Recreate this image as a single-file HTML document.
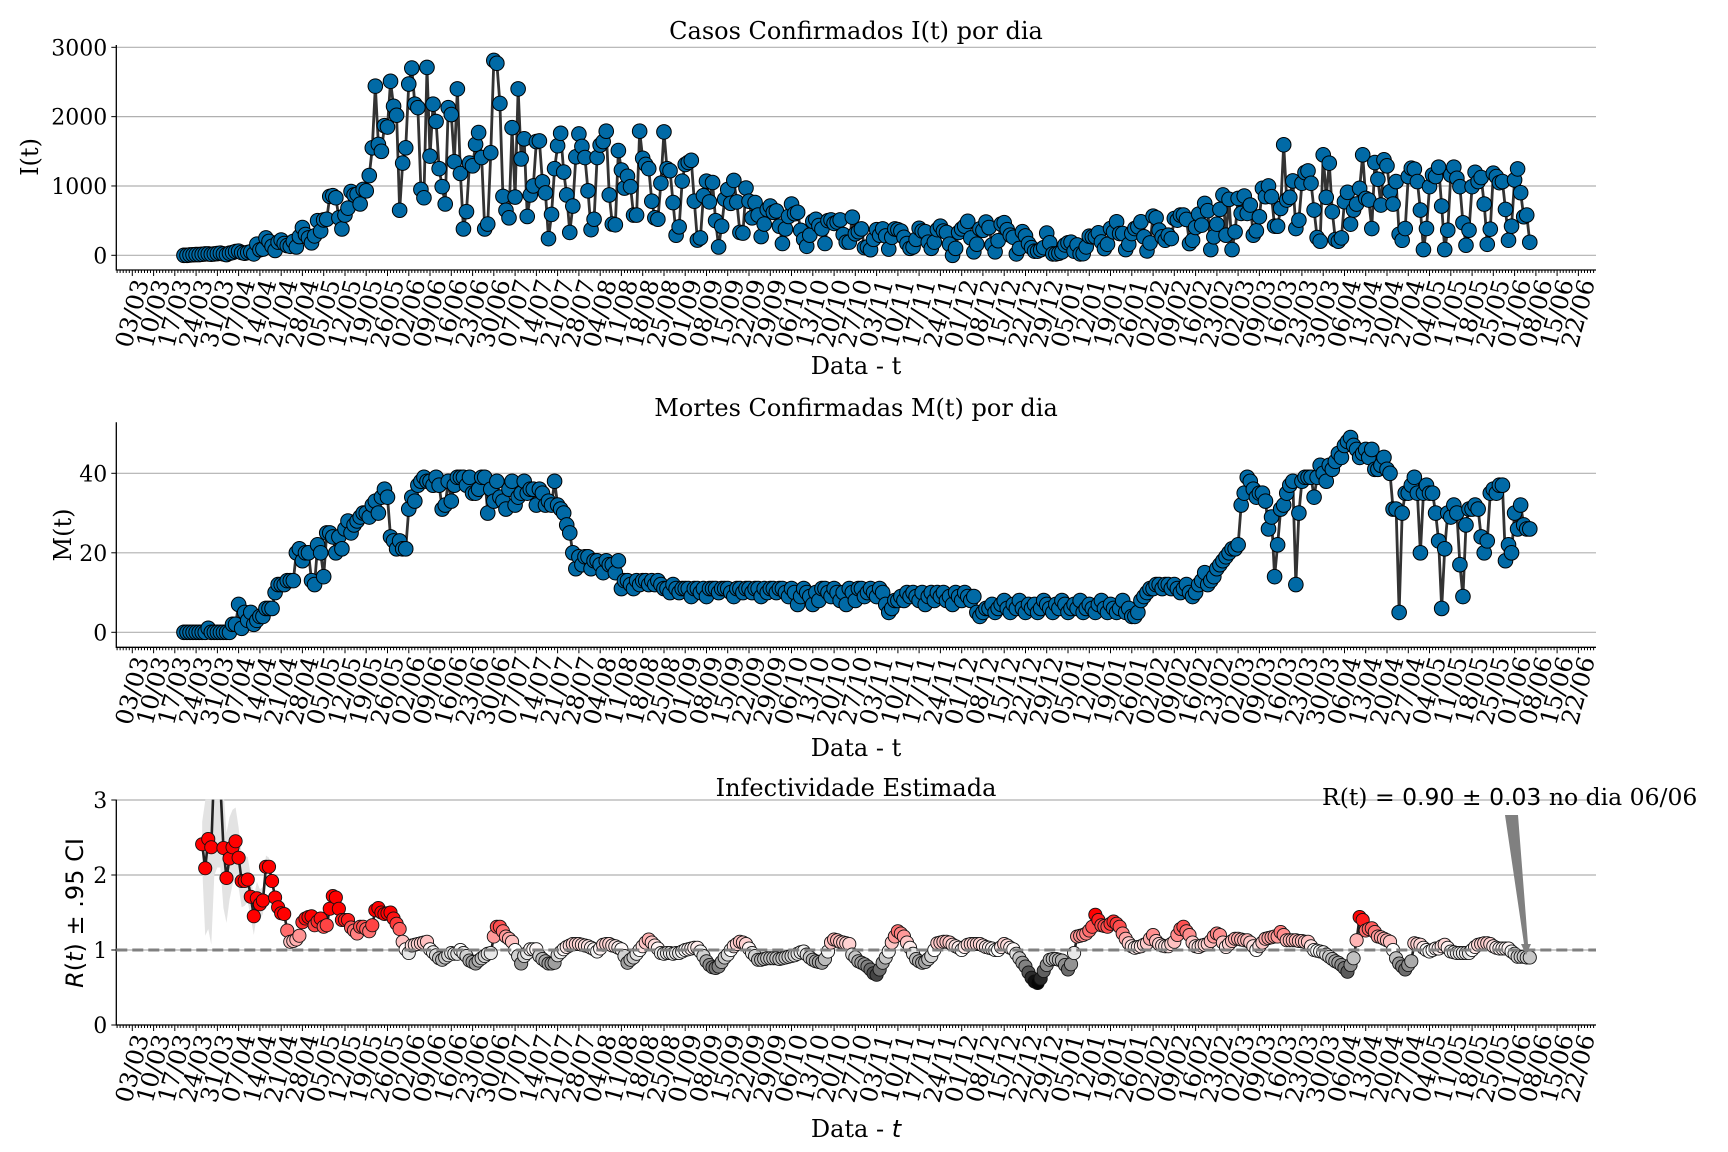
<!DOCTYPE html>
<html><head><meta charset="utf-8"><title>Casos, Mortes e R(t)</title>
<style>
html,body{margin:0;padding:0;background:#fff;}
svg{display:block;font-family:"DejaVu Serif","Liberation Serif",serif;}
</style></head>
<body>
<svg id="chart" width="1728" height="1152" viewBox="0 0 1728 1152" xmlns="http://www.w3.org/2000/svg">
<defs>
<clipPath id="clipR"><rect x="116.3" y="799.6" width="1480" height="225.4"/></clipPath>
</defs>
<text x="856" y="39" font-size="24" text-anchor="middle">Casos Confirmados I(t) por dia</text>
<text x="856" y="416" font-size="24" text-anchor="middle">Mortes Confirmadas M(t) por dia</text>
<text x="856" y="796" font-size="24" text-anchor="middle">Infectividade Estimada</text>
<text transform="translate(38,157) rotate(-90)" font-size="24" text-anchor="middle">I(t)</text>
<text transform="translate(71,535) rotate(-90)" font-size="24" text-anchor="middle">M(t)</text>
<text transform="translate(83,913) rotate(-90)" font-size="24" text-anchor="middle" font-family="DejaVu Sans, Liberation Sans, sans-serif"><tspan font-style="italic">R</tspan>(<tspan font-style="italic">t</tspan>) ± .95 CI</text>
<text x="856" y="374" font-size="24" text-anchor="middle">Data - t</text>
<text x="856" y="756" font-size="24" text-anchor="middle">Data - t</text>
<text x="856" y="1137" font-size="24" text-anchor="middle">Data - <tspan font-style="italic" font-family="DejaVu Sans, sans-serif">t</tspan></text>
<g id="layer"></g>
<polygon points="1505,815 1518,815 1528,944 1531,944 1526,955 1521,944 1524,944" fill="#808080"/>
<text x="1322" y="805" font-size="23.5">R(t) = <tspan font-family="DejaVu Sans, sans-serif">0.90 ± 0.03</tspan> no dia 06/06</text>
</svg>
<script>
const dateLabels = ["03/03","10/03","17/03","24/03","31/03","07/04","14/04","21/04","28/04","05/05","12/05","19/05","26/05","02/06","09/06","16/06","23/06","30/06","07/07","14/07","21/07","28/07","04/08","11/08","18/08","25/08","01/09","08/09","15/09","22/09","29/09","06/10","13/10","20/10","27/10","03/11","10/11","17/11","24/11","01/12","08/12","15/12","22/12","29/12","05/01","12/01","19/01","26/01","02/02","09/02","16/02","23/02","02/03","09/03","16/03","23/03","30/03","06/04","13/04","20/04","27/04","04/05","11/05","18/05","25/05","01/06","08/06","15/06","22/06"];
const firstDay = 17;
const casesI = [
0,0,5,8,10,10,15,20,20,15,20,25,30,20,10,30,40,55,60,40,30,40,50,20,
160,80,90,250,200,130,70,190,220,170,140,130,200,120,270,400,300,250,180,280,500,350,510,520,850,860,
830,540,380,580,680,920,870,880,740,950,930,1150,
1550,2440,1600,1500,1870,1850,2510,2150,2020,650,1330,1550,2470,2700,2180,2130,950,830,2710,1430,
2180,1930,1250,990,740,2130,2030,1350,2400,1180,380,630,1330,1290,1600,1770,1410,380,450,1480,
2810,2770,2190,850,650,540,1840,840,2400,1390,1680,560,870,1000,1640,1650,1060,900,240,590,1250,1580,1760,
1200,870,330,710,1420,1750,1570,1410,930,370,520,1410,1590,1640,1790,870,450,440,1510,1230,
970,1140,990,580,580,1790,1400,1310,1250,780,540,520,1040,1780,1250,1220,760,290,410,1070,
1310,1340,1370,780,220,250,860,1070,770,1050,500,120,420,810,950,750,1080,770,330,320,
970,780,540,760,580,270,450,660,710,620,640,420,170,380,560,740,600,620,360,230,
130,290,490,520,430,380,170,500,510,460,480,510,300,190,190,550,310,340,380,110,
120,80,230,370,290,380,280,90,260,380,370,350,260,170,100,120,230,390,350,340,
190,100,190,370,420,350,330,160,0,100,330,380,420,490,250,50,160,380,360,480,
400,150,50,210,450,470,370,290,260,20,100,340,280,170,110,60,60,80,110,320,
180,20,20,30,50,150,180,190,60,150,20,
24,121,275,266,266,324,193,97,159,386,338,483,314,314,82,159,314,386,411,483,
266,63,179,565,541,362,266,217,290,242,531,507,580,580,517,169,217,401,594,435,
749,643,82,266,449,662,870,290,807,82,338,821,604,855,604,725,290,353,556,966,
845,1000,845,420,420,676,1594,797,836,1072,386,507,1039,1193,1217,1039,652,256,203,1449,
836,1329,628,227,203,251,773,908,449,652,739,966,1449,821,797,386,1338,1097,725,1377,
1290,918,739,1063,304,217,386,1135,1256,1242,1063,652,82,386,990,1159,1135,1271,710,82,
362,1159,1271,1111,990,469,145,362,990,1198,1063,1121,739,159,377,1184,1135,1048,1063,662,
217,420,1087,1246,903,556,580,188];
const deathsM = [
0,0,0,0,0,0,0,0,1,0,0,0,0,0,0,0,
2,2,7,1,5,3,5,2,3,4,4,6,6,6,10,12,12,12,13,13,13,20,
21,18,20,20,13,12,22,20,14,25,25,24,20,24,21,26,28,25,27,28,29,30,30,29,32,33,30,34,36,
34,24,23,21,23,21,21,31,34,33,37,38,
39,38,38,37,39,37,31,32,38,33,37,39,39,39,37,39,35,35,36,39,39,30,
36,33,38,34,33,31,36,38,32,34,35,38,35,36,36,32,36,35,32,33,32,38,
32,31,30,27,25,20,
16,19,17,19,19,16,18,18,17,15,18,17,17,15,18,11,
13,13,12,11,13,12,13,13,12,13,12,13,12,11,11,10,12,11,10,11,11,11,9,11,11,10,11,9,11,11,
11,10,11,11,11,10,9,11,11,10,11,11,10,11,11,9,11,10,11,11,10,11,11,10,9,11,10,7,9,11,
10,9,7,10,8,11,11,10,9,11,10,8,
10,7,11,10,8,11,11,9,10,11,10,9,11,10,7,5,6,
8,8,9,8,10,9,10,9,8,10,7,9,10,8,10,9,10,8,9,7,10,9,8,10,9,8,9,
5,4,5,6,
6,7,5,6,7,8,6,5,7,6,8,6,5,7,6,7,5,6,8,7,6,5,7,6,8,7,5,6,7,6,8,5,6,7,6,5,7,8,6,5,7,6,5,6,8,5,6,
4,4,5,
8,9,10,11,11,12,12,11,12,12,11,12,11,10,11,12,
10,9,10,12,13,15,12,13,14,16,17,18,19,20,21,21,22,
32,35,39,38,36,34,35,35,33,26,29,14,22,31,32,35,37,38,12,30,
38,39,39,39,34,39,42,40,38,42,41,43,45,44,47,48,49,47,46,44,
45,46,44,46,41,41,42,44,41,40,31,31,5,30,35,35,37,39,35,20,
35,37,35,35,30,23,6,21,30,29,32,30,17,9,27,31,31,32,31,24,
20,23,35,36,35,37,37,18,22,20,30,26,32,27,26,26];
const rFirstDay = 23;
const rValues = [
2.41,2.09,2.48,2.37,3.5,3.6,3.2,2.36,1.96,2.22,
2.37,2.45,2.23,1.92,1.92,1.94,1.71,1.45,1.69,1.61,
1.66,2.11,2.11,1.92,1.70,1.57,1.49,1.48,1.26,1.11,
1.12,1.14,1.19,1.37,1.42,1.44,1.45,1.33,1.38,1.42,
1.31,1.33,1.55,1.72,1.70,1.55,1.40,1.40,1.40,1.30,
1.26,1.22,1.31,1.31,1.28,1.25,1.33,1.53,1.56,1.50,
1.48,1.49,1.50,1.42,1.35,1.28,1.11,1.01,0.96,1.06,
1.07,1.08,1.09,1.10,1.11,1.01,0.97,0.93,0.89,0.87,
0.90,0.93,0.96,0.95,0.95,1.00,0.96,0.92,0.86,0.84,
0.82,0.86,0.89,0.92,0.95,0.96,1.18,1.31,1.31,1.25,
1.18,1.15,1.11,1.00,0.92,0.82,0.92,0.96,1.01,1.01,
1.01,0.92,0.88,0.85,0.82,0.82,0.83,0.93,0.97,1.01,
1.04,1.06,1.08,1.08,1.08,1.07,1.06,1.05,1.03,1.01,
0.98,1.02,1.07,1.08,1.08,1.06,1.05,1.03,1.01,0.92,0.83,
0.87,0.9,0.95,1.0,1.05,1.1,1.14,
1.1,1.06,1.02,0.96,0.95,0.96,0.96,0.95,0.96,0.96,
0.98,1.0,1.01,1.02,1.03,1.03,0.98,0.92,0.85,0.8,
0.77,0.76,0.78,0.84,0.9,0.94,1.0,1.05,1.08,1.11,
1.1,1.08,1.02,0.96,0.92,0.87,0.87,0.88,0.89,0.89,
0.89,0.89,0.88,0.89,0.9,0.91,0.92,0.93,0.95,0.97,
0.98,0.94,0.9,0.87,0.85,0.84,0.83,0.88,0.98,1.1,
1.14,1.13,1.11,1.1,1.09,1.08,0.94,0.9,0.85,0.83,
0.81,0.78,0.74,0.69,0.67,0.74,0.83,0.9,0.98,1.1,
1.18,1.25,1.22,1.18,1.1,1.03,0.95,0.88,0.85,0.83,
0.84,0.88,0.92,1.0,1.09,1.1,1.11,1.11,1.1,1.07,
1.05,1.03,1.0,1.04,1.07,1.08,1.08,1.08,1.08,1.06,
1.04,1.03,1.02,1.0,1.0,1.04,1.08,1.06,1.03,1.01,
0.95,0.89,0.83,0.78,0.7,0.63,0.58,0.56,0.62,0.72,
0.8,0.87,0.88,0.88,0.87,0.86,0.8,0.74,0.81,0.96,
1.18,1.19,1.2,1.22,1.26,1.31,1.47,1.4,1.33,1.32,
1.31,1.35,1.38,1.35,1.31,1.22,1.15,1.09,1.05,1.03,
1.04,1.05,1.07,1.09,1.15,1.2,1.12,1.08,1.06,1.05,
1.05,1.08,1.11,1.2,1.28,1.31,1.25,1.2,1.1,1.05,
1.04,1.06,1.07,1.08,1.12,1.18,1.22,1.2,1.1,1.04,
1.08,1.12,1.15,1.15,1.14,1.13,1.13,1.1,1.05,1.0,
1.05,1.1,1.15,1.16,1.17,1.18,1.18,1.24,1.2,1.13,
1.13,1.13,1.13,1.12,1.12,1.11,1.11,1.05,1.0,0.99,
0.98,0.97,0.94,0.91,0.88,0.85,0.83,0.8,0.76,0.71,
0.8,0.89,1.13,1.44,1.40,1.26,1.28,1.29,1.24,1.18,
1.17,1.15,1.13,1.11,1.0,0.89,0.82,0.78,0.74,0.8,
0.85,1.09,1.08,1.07,1.03,1.0,0.98,1.0,1.02,1.02,
1.05,1.07,1.03,0.98,0.97,0.96,0.96,0.96,0.96,0.96,
1.0,1.04,1.07,1.08,1.09,1.09,1.08,1.05,1.03,1.02,
1.02,1.02,1.02,0.98,0.95,0.91,0.91,0.91,0.9,0.9];
const rCiHalf = [0.3,0.9,1.2,1.3,1.5,1.5,1.1,0.8,0.6,0.55,0.5,0.45,0.4,0.35,0.33,0.3,0.28,0.25,0.22,0.2,0.18,0.15,0.12,0.1,0.08,0.06];
const casesTicks = [0,1000,2000,3000];
const deathsTicks = [0,20,40];
const rTicks = [0,1,2,3];

const NS = "http://www.w3.org/2000/svg";
const layer = document.getElementById('layer');
const X0 = 116.3, X1 = 1596;
function xOf(d){ return 132.3 + d * 3.038; }
function yI(v){ return 255.3 - v * 0.06933; }
function yM(v){ return 632.3 - v * 3.975; }
function yR(v){ return 1025 - v * 75; }
function mk(tag, parent){ const e = document.createElementNS(NS, tag); (parent || layer).appendChild(e); return e; }

function rColor(r){
  let R, G, B;
  if (r >= 1){ const t = Math.min((r - 1) / 0.45, 1); R = 255; G = Math.round(255 * (1 - t)); B = G; }
  else { const t = Math.min((1 - r) / 0.45, 1); R = G = B = Math.round(255 * (1 - t)); }
  return 'rgb(' + R + ',' + G + ',' + B + ')';
}

function drawAxes(name, top, bottom, ticks, yf){
  const g = mk('g');
  
  
  ticks.forEach(function(t){
    const y = yf(t);
    const gl = mk('line', g);
    gl.setAttribute('x1', X0); gl.setAttribute('x2', X1); gl.setAttribute('y1', y); gl.setAttribute('y2', y);
    gl.setAttribute('stroke', '#b0b0b0'); gl.setAttribute('stroke-width', '1.2');
    
    
    const tk = mk('line', g);
    tk.setAttribute('x1', X0 - 5); tk.setAttribute('x2', X0); tk.setAttribute('y1', y); tk.setAttribute('y2', y);
    tk.setAttribute('stroke', '#000'); tk.setAttribute('stroke-width', '1');
    
    
    const tx = mk('text', g);
    tx.setAttribute('x', X0 - 9); tx.setAttribute('y', y + 8); tx.setAttribute('font-size', '22'); tx.setAttribute('text-anchor', 'end');
    tx.textContent = String(t);
    
    
  });
  const sp = mk('path', g);
  sp.setAttribute('d', 'M' + X0 + ' ' + top + 'V' + bottom + 'H' + X1);
  sp.setAttribute('stroke', '#000'); sp.setAttribute('stroke-width', '1.3'); sp.setAttribute('fill', 'none');
  
  
  let minor = '';
  for (let d = -5; d <= 481; d++){ const x = xOf(d); minor += 'M' + x.toFixed(1) + ' ' + bottom + 'v' + (d % 7 === 0 ? 6 : 3); }
  const mt = mk('path', g);
  mt.setAttribute('d', minor); mt.setAttribute('stroke', '#000'); mt.setAttribute('stroke-width', '1');
  
  
  dateLabels.forEach(function(lab, k){
    const x = xOf(k * 7);
    const tx = mk('text', g);
    tx.setAttribute('transform', 'translate(' + (x + 9).toFixed(1) + ',' + (bottom + 10) + ') rotate(-75)');
    tx.setAttribute('font-size', '24'); tx.setAttribute('text-anchor', 'end'); tx.setAttribute('dominant-baseline', 'central');
    tx.textContent = lab;
    
    
  });
}

function drawSeries(name, values, yf){
  const g = mk('g');
  
  
  let d = '';
  values.forEach(function(v, i){ d += (i ? 'L' : 'M') + xOf(firstDay + i).toFixed(2) + ' ' + yf(v).toFixed(2); });
  const ln = mk('path', g);
  ln.setAttribute('d', d); ln.setAttribute('stroke', '#333'); ln.setAttribute('stroke-width', '2.8'); ln.setAttribute('fill', 'none');
  
  
  values.forEach(function(v, i){
    const c = mk('circle', g);
    c.setAttribute('cx', xOf(firstDay + i).toFixed(2)); c.setAttribute('cy', yf(v).toFixed(2)); c.setAttribute('r', '7.3');
    c.setAttribute('fill', '#016aa6'); c.setAttribute('stroke', '#000'); c.setAttribute('stroke-width', '1');
    
    
  });
}

drawAxes('cases', 45, 270, casesTicks, yI);
drawSeries('cases', casesI, yI);
drawAxes('deaths', 422.3, 647.3, deathsTicks, yM);
drawSeries('deaths', deathsM, yM);
drawAxes('rt', 799.6, 1025, rTicks, yR);

const rg = mk('g');
rg.setAttribute('clip-path', 'url(#clipR)');


let up = '', dn = '';
rCiHalf.forEach(function(h, i){
  const x = xOf(rFirstDay + i).toFixed(2);
  up += (i ? 'L' : 'M') + x + ' ' + yR(rValues[i] + h).toFixed(2);
});
for (let i = rCiHalf.length - 1; i >= 0; i--){ dn += 'L' + xOf(rFirstDay + i).toFixed(2) + ' ' + yR(rValues[i] - rCiHalf[i]).toFixed(2); }
const band = mk('path', rg);
band.setAttribute('d', up + dn + 'Z'); band.setAttribute('fill', '#e3e3e3');


let rd = '';
rValues.forEach(function(v, i){ rd += (i ? 'L' : 'M') + xOf(rFirstDay + i).toFixed(2) + ' ' + yR(v).toFixed(2); });
const rl = mk('path', rg);
rl.setAttribute('d', rd); rl.setAttribute('stroke', '#222'); rl.setAttribute('stroke-width', '2.6'); rl.setAttribute('fill', 'none');


rValues.forEach(function(v, i){
  const c = mk('circle', rg);
  c.setAttribute('cx', xOf(rFirstDay + i).toFixed(2)); c.setAttribute('cy', yR(v).toFixed(2)); c.setAttribute('r', '6.6');
  c.setAttribute('fill', rColor(v)); c.setAttribute('stroke', '#111'); c.setAttribute('stroke-width', '0.9');
  
  
});
const ref = mk('line');
ref.setAttribute('x1', X0); ref.setAttribute('x2', X1); ref.setAttribute('y1', yR(1)); ref.setAttribute('y2', yR(1));
ref.setAttribute('stroke', '#808080'); ref.setAttribute('stroke-width', '3'); ref.setAttribute('stroke-dasharray', '11,5');


</script>
</body></html>
